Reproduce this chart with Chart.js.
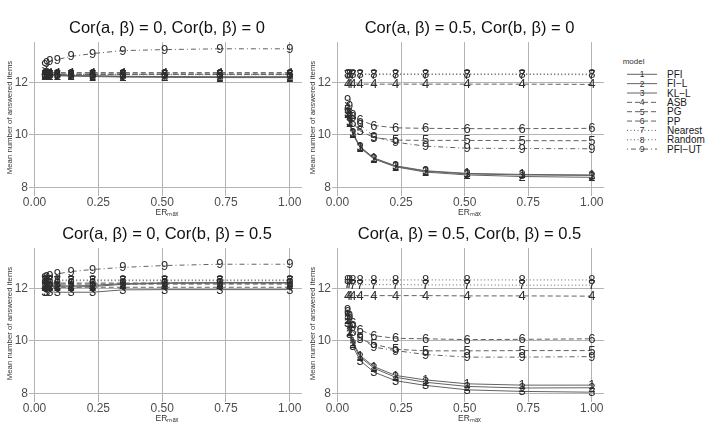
<!DOCTYPE html>
<html>
<head>
<meta charset="utf-8">
<script src="https://cdn.jsdelivr.net/npm/chart.js@4/dist/chart.umd.min.js"></script>
<style>
  html, body { margin: 0; padding: 0; background: #ffffff; }
  body { width: 708px; height: 429px; position: relative; overflow: hidden; font-family: "Liberation Sans", Arial, sans-serif; }
  canvas { position: absolute; }
  #legend { position: absolute; left: 610px; top: 50px; }
</style>
</head>
<body>
<canvas id="c1" width="306" height="220" style="left:0px;top:0px"></canvas>
<canvas id="c2" width="305" height="220" style="left:303px;top:0px"></canvas>
<canvas id="c3" width="306" height="220" style="left:0px;top:206px"></canvas>
<canvas id="c4" width="305" height="220" style="left:303px;top:206px"></canvas>
<svg id="legend" width="98" height="110" xmlns="http://www.w3.org/2000/svg"></svg>
<script>
// ---------------- data ----------------
const erMax = [0.04, 0.047, 0.06, 0.089, 0.143, 0.228, 0.346, 0.51, 0.726, 1.0];
const models = ['PFI', 'FI\u2212L', 'KL\u2212L', 'ASB', 'PG', 'PP', 'Nearest', 'Random', 'PFI\u2212UT'];
const markers = ['1', '2', '3', '4', '5', '6', '7', '8', '9'];
const panelTitles = [
  'Cor(a, \u03B2) = 0, Cor(b, \u03B2) = 0',
  'Cor(a, \u03B2) = 0.5, Cor(b, \u03B2) = 0',
  'Cor(a, \u03B2) = 0, Cor(b, \u03B2) = 0.5',
  'Cor(a, \u03B2) = 0.5, Cor(b, \u03B2) = 0.5'
];
const xTicks = [0, 0.25, 0.5, 0.75, 1];
const xTickLabels = ['0.00', '0.25', '0.50', '0.75', '1.00'];
const yTicks = [8, 10, 12];
const yTickLabels = ['8', '10', '12'];

// Cor(a,b)=0, Cor(b,b)=0 : one row per model (1..9)
const cor00 = [
  [12.28, 12.28, 12.27, 12.27, 12.26, 12.25, 12.23, 12.22, 12.21, 12.21],
  [12.27, 12.27, 12.26, 12.26, 12.25, 12.23, 12.21, 12.20, 12.19, 12.19],
  [12.29, 12.29, 12.28, 12.28, 12.27, 12.26, 12.24, 12.23, 12.22, 12.22],
  [12.38, 12.38, 12.38, 12.38, 12.38, 12.38, 12.38, 12.38, 12.38, 12.38],
  [12.31, 12.31, 12.31, 12.31, 12.31, 12.31, 12.31, 12.31, 12.31, 12.31],
  [12.33, 12.33, 12.33, 12.33, 12.33, 12.33, 12.33, 12.33, 12.33, 12.33],
  [12.30, 12.30, 12.30, 12.30, 12.30, 12.30, 12.30, 12.30, 12.30, 12.30],
  [12.32, 12.32, 12.32, 12.32, 12.32, 12.32, 12.32, 12.32, 12.32, 12.32],
  [12.69, 12.75, 12.81, 12.88, 13.00, 13.11, 13.22, 13.26, 13.29, 13.29]
];
// Cor(a,b)=0.5, Cor(b,b)=0
const cor50 = [
  [10.85, 10.50, 10.08, 9.55, 9.12, 8.82, 8.63, 8.53, 8.49, 8.47],
  [10.80, 10.45, 10.03, 9.51, 9.08, 8.78, 8.58, 8.47, 8.41, 8.38],
  [10.83, 10.48, 10.06, 9.53, 9.10, 8.80, 8.61, 8.51, 8.47, 8.45],
  [11.95, 11.94, 11.94, 11.94, 11.94, 11.94, 11.94, 11.94, 11.94, 11.93],
  [10.95, 10.70, 10.45, 10.15, 9.90, 9.80, 9.79, 9.79, 9.78, 9.78],
  [11.00, 10.85, 10.70, 10.57, 10.36, 10.27, 10.25, 10.24, 10.24, 10.25],
  [12.31, 12.31, 12.31, 12.31, 12.31, 12.31, 12.31, 12.31, 12.31, 12.30],
  [12.33, 12.33, 12.33, 12.33, 12.33, 12.33, 12.33, 12.33, 12.33, 12.33],
  [11.35, 11.10, 10.75, 10.40, 9.93, 9.72, 9.57, 9.49, 9.48, 9.47]
];
// Cor(a,b)=0, Cor(b,b)=0.5
const cor05 = [
  [12.12, 12.12, 12.12, 12.11, 12.10, 12.12, 12.19, 12.22, 12.23, 12.23],
  [12.08, 12.08, 12.08, 12.07, 12.06, 12.08, 12.16, 12.20, 12.21, 12.21],
  [11.88, 11.87, 11.87, 11.86, 11.86, 11.86, 11.95, 11.96, 11.96, 11.96],
  [12.05, 12.05, 12.05, 12.05, 12.05, 12.05, 12.05, 12.05, 12.05, 12.05],
  [12.17, 12.17, 12.17, 12.17, 12.17, 12.17, 12.17, 12.17, 12.17, 12.17],
  [12.21, 12.21, 12.21, 12.21, 12.21, 12.21, 12.21, 12.21, 12.21, 12.21],
  [12.30, 12.30, 12.30, 12.30, 12.30, 12.30, 12.30, 12.30, 12.30, 12.30],
  [12.33, 12.33, 12.33, 12.33, 12.33, 12.33, 12.33, 12.33, 12.33, 12.33],
  [12.40, 12.45, 12.50, 12.56, 12.65, 12.73, 12.81, 12.88, 12.93, 12.93]
];
// Cor(a,b)=0.5, Cor(b,b)=0.5
const cor55 = [
  [10.85, 10.40, 9.95, 9.44, 9.02, 8.68, 8.51, 8.36, 8.31, 8.31],
  [10.80, 10.35, 9.90, 9.38, 8.96, 8.61, 8.42, 8.26, 8.20, 8.21],
  [10.70, 10.25, 9.80, 9.25, 8.81, 8.48, 8.30, 8.13, 8.07, 8.04],
  [11.73, 11.73, 11.73, 11.73, 11.73, 11.73, 11.73, 11.72, 11.72, 11.71],
  [10.95, 10.65, 10.35, 10.08, 9.87, 9.68, 9.62, 9.62, 9.63, 9.63],
  [11.10, 10.95, 10.70, 10.42, 10.20, 10.10, 10.08, 10.05, 10.06, 10.08],
  [12.16, 12.16, 12.15, 12.15, 12.15, 12.15, 12.14, 12.14, 12.13, 12.13],
  [12.33, 12.33, 12.33, 12.33, 12.33, 12.33, 12.33, 12.33, 12.33, 12.33],
  [11.20, 10.95, 10.55, 10.14, 9.76, 9.63, 9.48, 9.38, 9.38, 9.40]
];

// ---------------- styles ----------------
const FONT = '"Liberation Sans", Arial, sans-serif';
const lineColor = '#626262';
const textDark = '#2e2e2e';
const gridColor = '#b4b4b4';
const dashStyles = [[], [], [], [5, 3], [5, 3], [5, 3], [1, 2.5], [1, 2.5], [1, 3, 5, 3]];

Chart.defaults.font.family = FONT;

const digitPlugin = {
  id: 'digitMarkers',
  afterDatasetsDraw(chart) {
    const ctx = chart.ctx;
    ctx.save();
    ctx.font = '13px ' + FONT;
    ctx.fillStyle = textDark;
    ctx.textAlign = 'center';
    ctx.textBaseline = 'middle';
    chart.data.datasets.forEach((ds, i) => {
      const meta = chart.getDatasetMeta(i);
      meta.data.forEach(pt => ctx.fillText(ds.marker, pt.x, pt.y + 0.5));
    });
    ctx.restore();
  }
};

function makePanel(id, title, rows) {
  const datasets = rows.map((vals, i) => ({
    label: models[i],
    marker: markers[i],
    data: erMax.map((x, j) => ({ x: x, y: vals[j] })),
    borderColor: lineColor,
    borderWidth: 1,
    borderDash: dashStyles[i],
    pointRadius: 0,
    pointHoverRadius: 0,
    tension: 0,
    fill: false
  }));
  return new Chart(document.getElementById(id), {
    type: 'line',
    data: { datasets: datasets },
    plugins: [digitPlugin],
    options: {
      responsive: false,
      animation: false,
      devicePixelRatio: 1,
      layout: { padding: { left: 0, right: 4, top: 0, bottom: 0 } },
      plugins: {
        legend: { display: false },
        tooltip: { enabled: false },
        title: {
          display: true,
          text: title,
          fullSize: false,
          color: '#111111',
          font: { size: 16.5, weight: 'normal', family: FONT, lineHeight: 1.2 },
          padding: { top: 18.2, bottom: 4 }
        }
      },
      scales: {
        x: {
          type: 'linear',
          min: -0.01,
          max: 1.048,
          afterBuildTicks: s => { s.ticks = xTicks.map(v => ({ value: v })); },
          afterFit: s => { s.height = 27; },
          border: { display: false },
          grid: { color: gridColor, lineWidth: 1, drawTicks: true, tickLength: 3, tickColor: gridColor },
          ticks: {
            autoSkip: false, maxRotation: 0, minRotation: 0, padding: -1,
            color: '#4d4d4d', font: { size: 12, family: FONT },
            callback: v => xTickLabels[xTicks.indexOf(v)]
          },
          title: {
            display: true,
            text: 'ER\u2098\u2090\u2093',
            color: '#333333',
            font: { size: 8.5, family: FONT, lineHeight: 1.2 },
            padding: { top: 0, bottom: 2 }
          }
        },
        y: {
          type: 'linear',
          min: 7.78,
          max: 13.55,
          afterBuildTicks: s => { s.ticks = yTicks.map(v => ({ value: v })); },
          afterFit: s => { s.width = 32; },
          border: { display: false },
          grid: { color: gridColor, lineWidth: 1, drawTicks: true, tickLength: 3, tickColor: gridColor },
          ticks: {
            padding: 1,
            color: '#4d4d4d', font: { size: 12, family: FONT },
            callback: v => yTickLabels[yTicks.indexOf(v)]
          },
          title: {
            display: true,
            text: 'Mean number of answered items',
            color: '#333333',
            font: { size: 7.8, family: FONT, lineHeight: 1.2 },
            padding: { top: 5, bottom: 0 }
          }
        }
      }
    }
  });
}

makePanel('c1', panelTitles[0], cor00);
makePanel('c2', panelTitles[1], cor50);
makePanel('c3', panelTitles[2], cor05);
makePanel('c4', panelTitles[3], cor55);

// ---------------- legend (SVG, real text) ----------------
(function buildLegend() {
  const svg = document.getElementById('legend');
  const NS = 'http://www.w3.org/2000/svg';
  const t = document.createElementNS(NS, 'text');
  t.setAttribute('x', 12.7); t.setAttribute('y', 14);
  t.setAttribute('font-size', '8'); t.setAttribute('fill', '#333');
  t.setAttribute('font-family', FONT);
  t.textContent = 'model';
  svg.appendChild(t);
  models.forEach((m, i) => {
    const cy = 24.3 + i * 9.35;
    const ln = document.createElementNS(NS, 'line');
    ln.setAttribute('x1', 17); ln.setAttribute('x2', 47);
    ln.setAttribute('y1', cy); ln.setAttribute('y2', cy);
    ln.setAttribute('stroke', lineColor); ln.setAttribute('stroke-width', 1);
    if (dashStyles[i].length) ln.setAttribute('stroke-dasharray', dashStyles[i].join(' '));
    svg.appendChild(ln);
    const d = document.createElementNS(NS, 'text');
    d.setAttribute('x', 32); d.setAttribute('y', cy + 3);
    d.setAttribute('text-anchor', 'middle');
    d.setAttribute('font-size', '8.5'); d.setAttribute('fill', textDark);
    d.setAttribute('font-family', FONT);
    d.textContent = markers[i];
    svg.appendChild(d);
    const lb = document.createElementNS(NS, 'text');
    lb.setAttribute('x', 57); lb.setAttribute('y', cy + 3.6);
    lb.setAttribute('font-size', '10'); lb.setAttribute('fill', '#1a1a1a');
    lb.setAttribute('font-family', FONT);
    lb.textContent = m;
    svg.appendChild(lb);
  });
})();
</script>
</body>
</html>
